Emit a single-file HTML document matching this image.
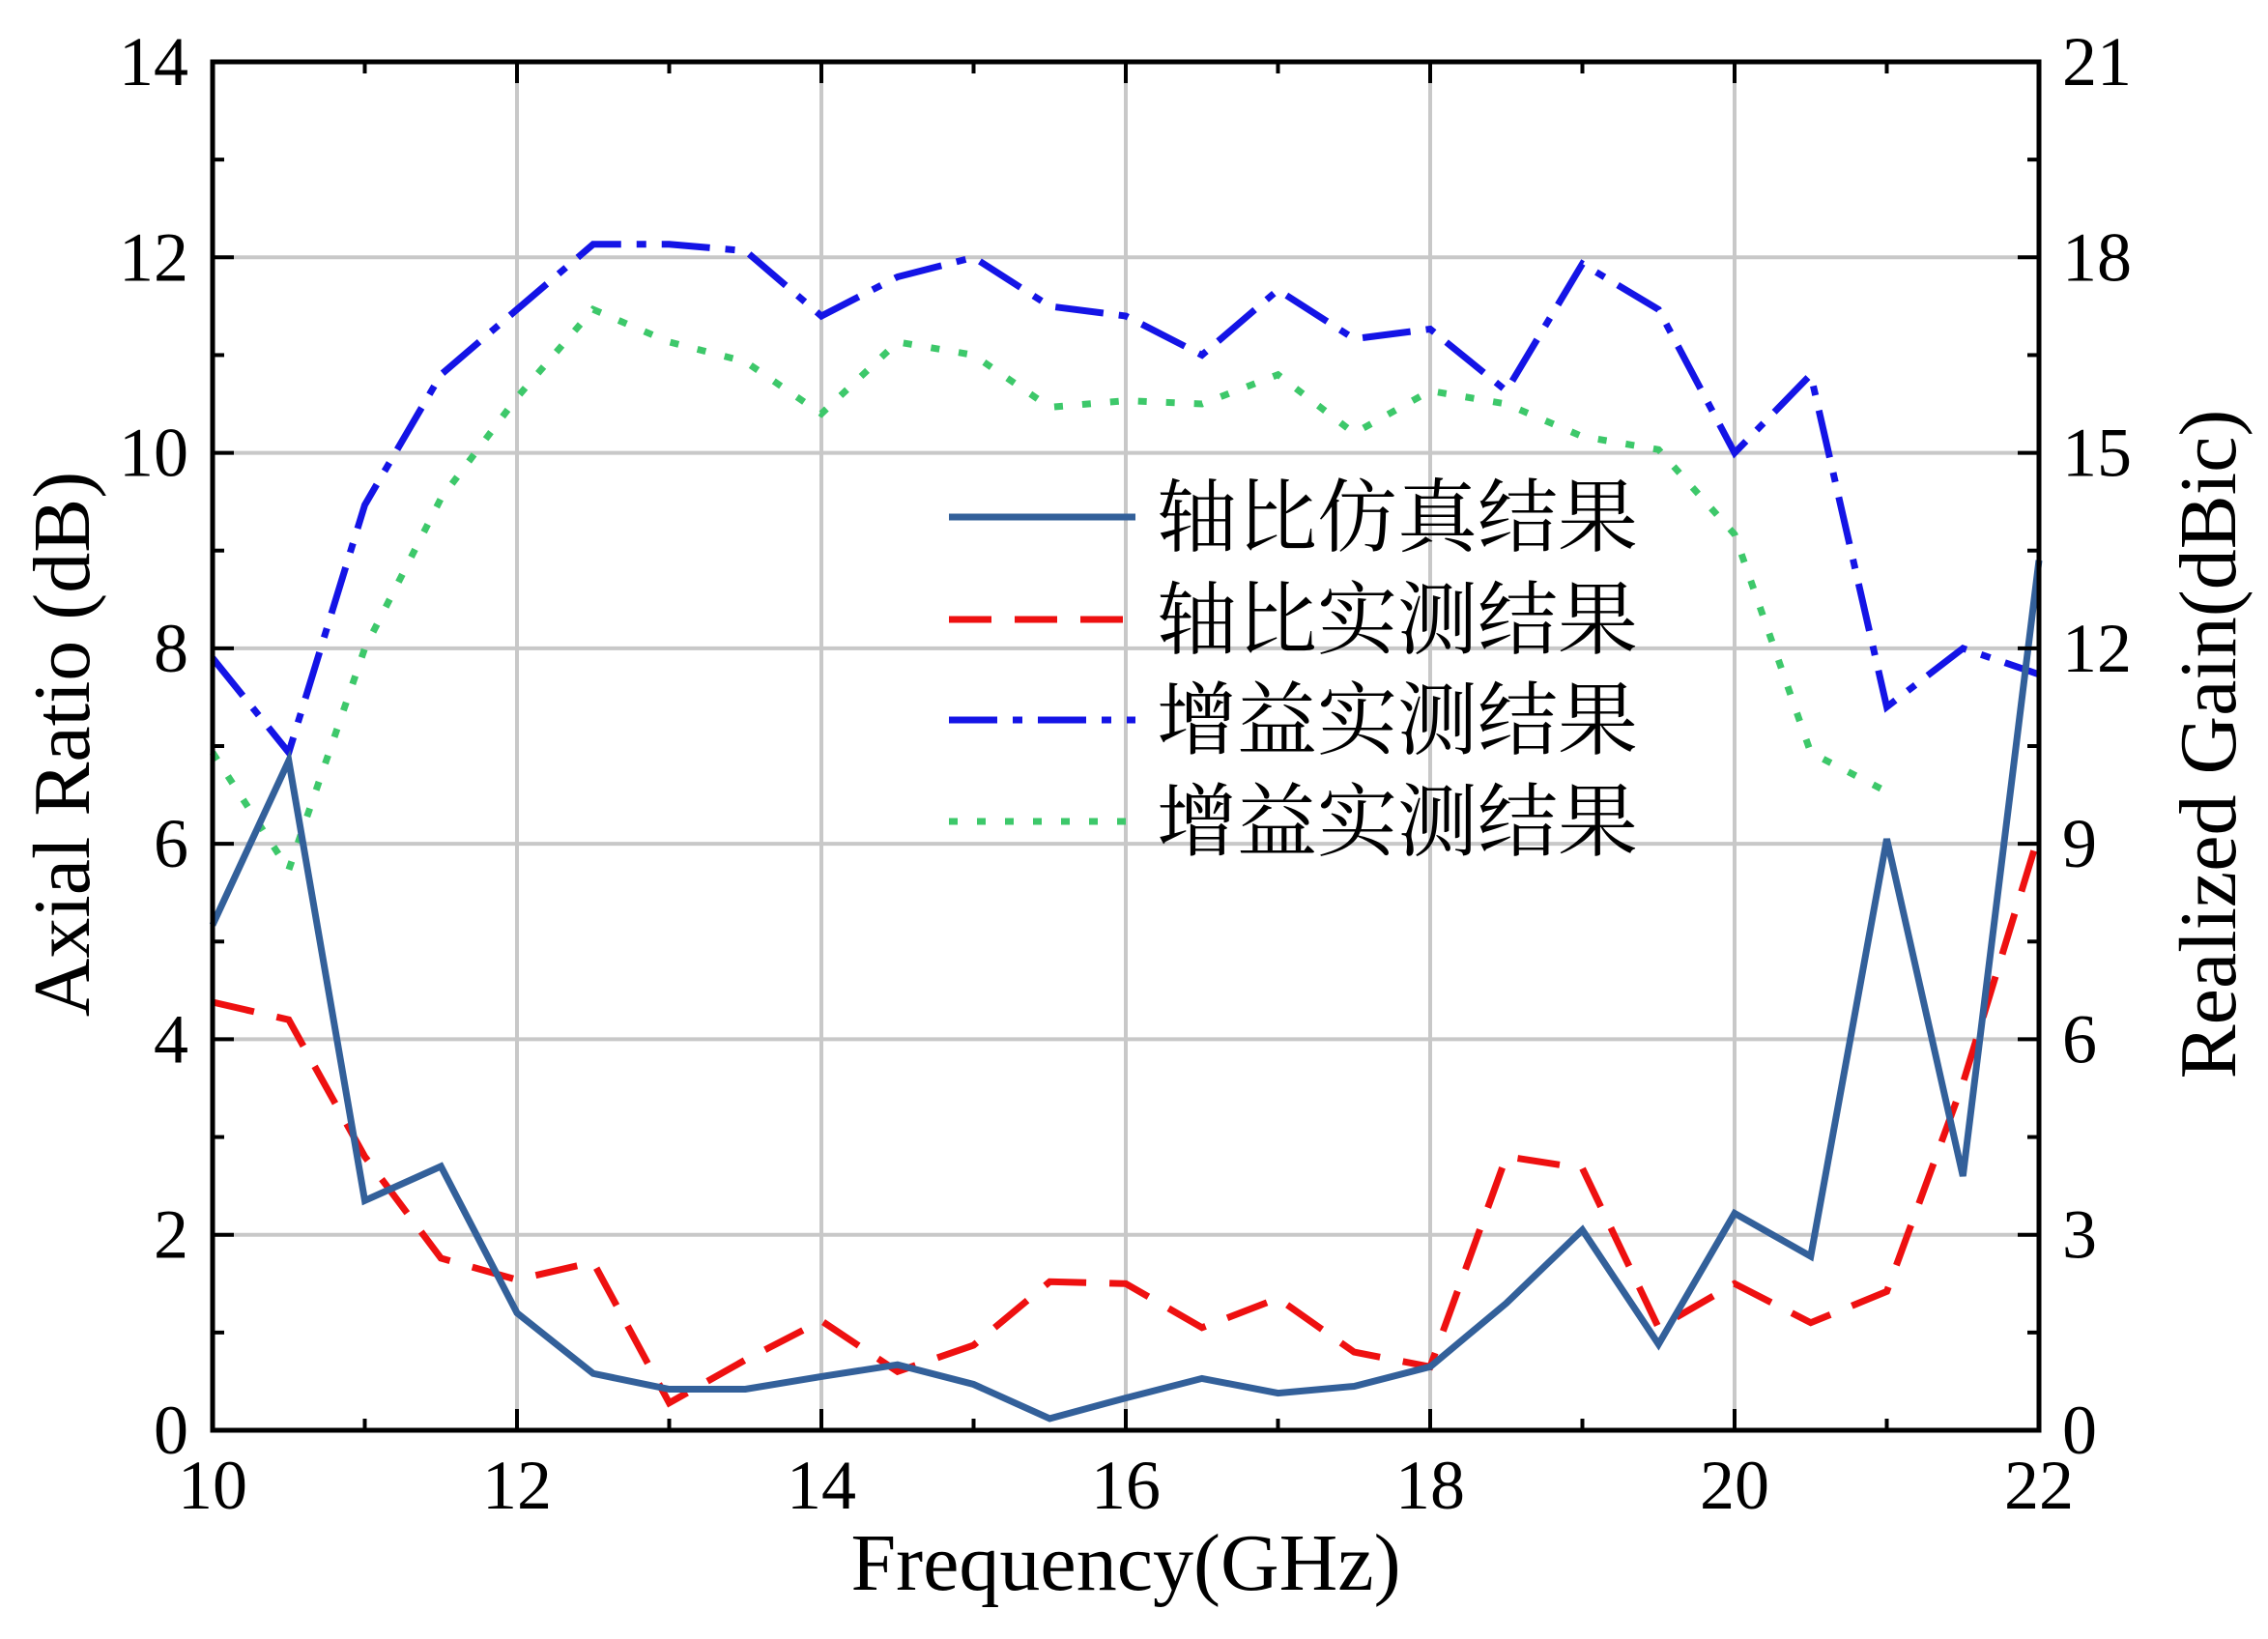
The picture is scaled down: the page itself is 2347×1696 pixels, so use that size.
<!DOCTYPE html>
<html><head><meta charset="utf-8"><style>
html,body{margin:0;padding:0;background:#fff;}
svg{display:block;}
text{font-family:"Liberation Serif","Noto Serif CJK SC",serif;fill:#000;}
</style></head><body>
<svg id="s" width="2347" height="1696" viewBox="0 0 2347 1696" xmlns="http://www.w3.org/2000/svg"></svg>
<script>
const L=220,R=2110,T=64,B=1480;
const X=f=>L+(f-10)/12*(R-L);
const YA=v=>B-v/14*(B-T);
const YG=v=>B-v/21*(B-T);
let h='';
for(let f=12;f<22;f+=2)h+=`<line x1="${X(f)}" y1="${T}" x2="${X(f)}" y2="${B}" stroke="#c8c8c8" stroke-width="4"/>`;
for(let v=2;v<14;v+=2)h+=`<line x1="${L}" y1="${YA(v)}" x2="${R}" y2="${YA(v)}" stroke="#c8c8c8" stroke-width="4"/>`;
const fr=[];for(let i=0;i<=24;i++)fr.push(10+i*0.5);
const sim=[5.17,6.85,2.35,2.7,1.2,0.58,0.42,0.42,0.55,0.67,0.47,0.12,0.33,0.53,0.38,0.45,0.65,1.3,2.05,0.88,2.22,1.78,6.05,2.6,8.9];
const mea=[4.38,4.2,2.8,1.76,1.54,1.72,0.28,0.72,1.12,0.6,0.87,1.52,1.5,1.05,1.35,0.8,0.65,2.8,2.68,1.05,1.5,1.1,1.42,3.55,6.1];
const g1=[11.85,10.4,14.2,16.2,17.2,18.2,18.2,18.1,17.1,17.7,18,17.25,17.1,16.5,17.5,16.75,16.9,15.95,17.9,17.2,15,16.2,11.1,12,11.6];
const g2=[10.4,8.6,12,14.3,15.85,17.2,16.7,16.4,15.6,16.7,16.5,15.7,15.8,15.75,16.2,15.3,15.95,15.75,15.25,15.05,13.75,10.4,9.8];
const pl=(d,Y)=>d.map((v,i)=>X(fr[i]).toFixed(1)+','+Y(v).toFixed(1)).join(' ');
h+=`<polyline points="${pl(g2,YG)}" fill="none" stroke="#3dc86a" stroke-width="7" stroke-dasharray="9 20"/>`;
h+=`<polyline points="${pl(g1,YG)}" fill="none" stroke="#1414e6" stroke-width="7" stroke-dasharray="50 16 10 16"/>`;
h+=`<polyline points="${pl(mea,YA)}" fill="none" stroke="#ee1010" stroke-width="7" stroke-dasharray="44 24"/>`;
h+=`<polyline points="${pl(sim,YA)}" fill="none" stroke="#33609a" stroke-width="7"/>`;
h+=`<rect x="${L}" y="${T}" width="${R-L}" height="${B-T}" fill="none" stroke="#000" stroke-width="5"/>`;
for(let f=10;f<=22;f+=1){const len=f%2?12:22;h+=`<line x1="${X(f)}" y1="${B}" x2="${X(f)}" y2="${B-len}" stroke="#000" stroke-width="4"/><line x1="${X(f)}" y1="${T}" x2="${X(f)}" y2="${T+len}" stroke="#000" stroke-width="4"/>`;
 if(f%2==0)h+=`<text x="${X(f)}" y="1561" font-size="72" text-anchor="middle">${f}</text>`;}
for(let v=0;v<=14;v+=1){const len=v%2?12:22;h+=`<line x1="${L}" y1="${YA(v)}" x2="${L+len}" y2="${YA(v)}" stroke="#000" stroke-width="4"/>`;
 if(v%2==0)h+=`<text x="195" y="${YA(v)+24}" font-size="72" text-anchor="end">${v}</text>`;}
for(let v=0;v<=21;v+=1.5){const len=(v%3)?12:22;h+=`<line x1="${R}" y1="${YG(v)}" x2="${R-len}" y2="${YG(v)}" stroke="#000" stroke-width="4"/>`;
 if(v%3==0)h+=`<text x="2134" y="${YG(v)+24}" font-size="72">${v}</text>`;}
h+=`<text x="1165" y="1645" font-size="84" text-anchor="middle">Frequency(GHz)</text>`;
h+=`<text transform="translate(92,770) rotate(-90)" font-size="84" text-anchor="middle">Axial Ratio (dB)</text>`;
h+=`<text transform="translate(2313,770) rotate(-90)" font-size="84" text-anchor="middle">Realized Gain(dBic)</text>`;
const leg=[["轴比仿真结果","#33609a",""],["轴比实测结果","#ee1010","44 24"],["增益实测结果","#1414e6","50 16 10 16"],["增益实测结果","#3dc86a","9 20"]];
const ly=[535,641,745,850];
leg.forEach((e,i)=>{h+=`<line x1="982" y1="${ly[i]}" x2="1175" y2="${ly[i]}" stroke="${e[1]}" stroke-width="7" ${e[2]?`stroke-dasharray="${e[2]}"`:''}/>`;
h+=`<text x="1197" y="${ly[i]+29}" font-size="83">${e[0]}</text>`;});
document.getElementById('s').innerHTML=h;
</script>
</body></html>
